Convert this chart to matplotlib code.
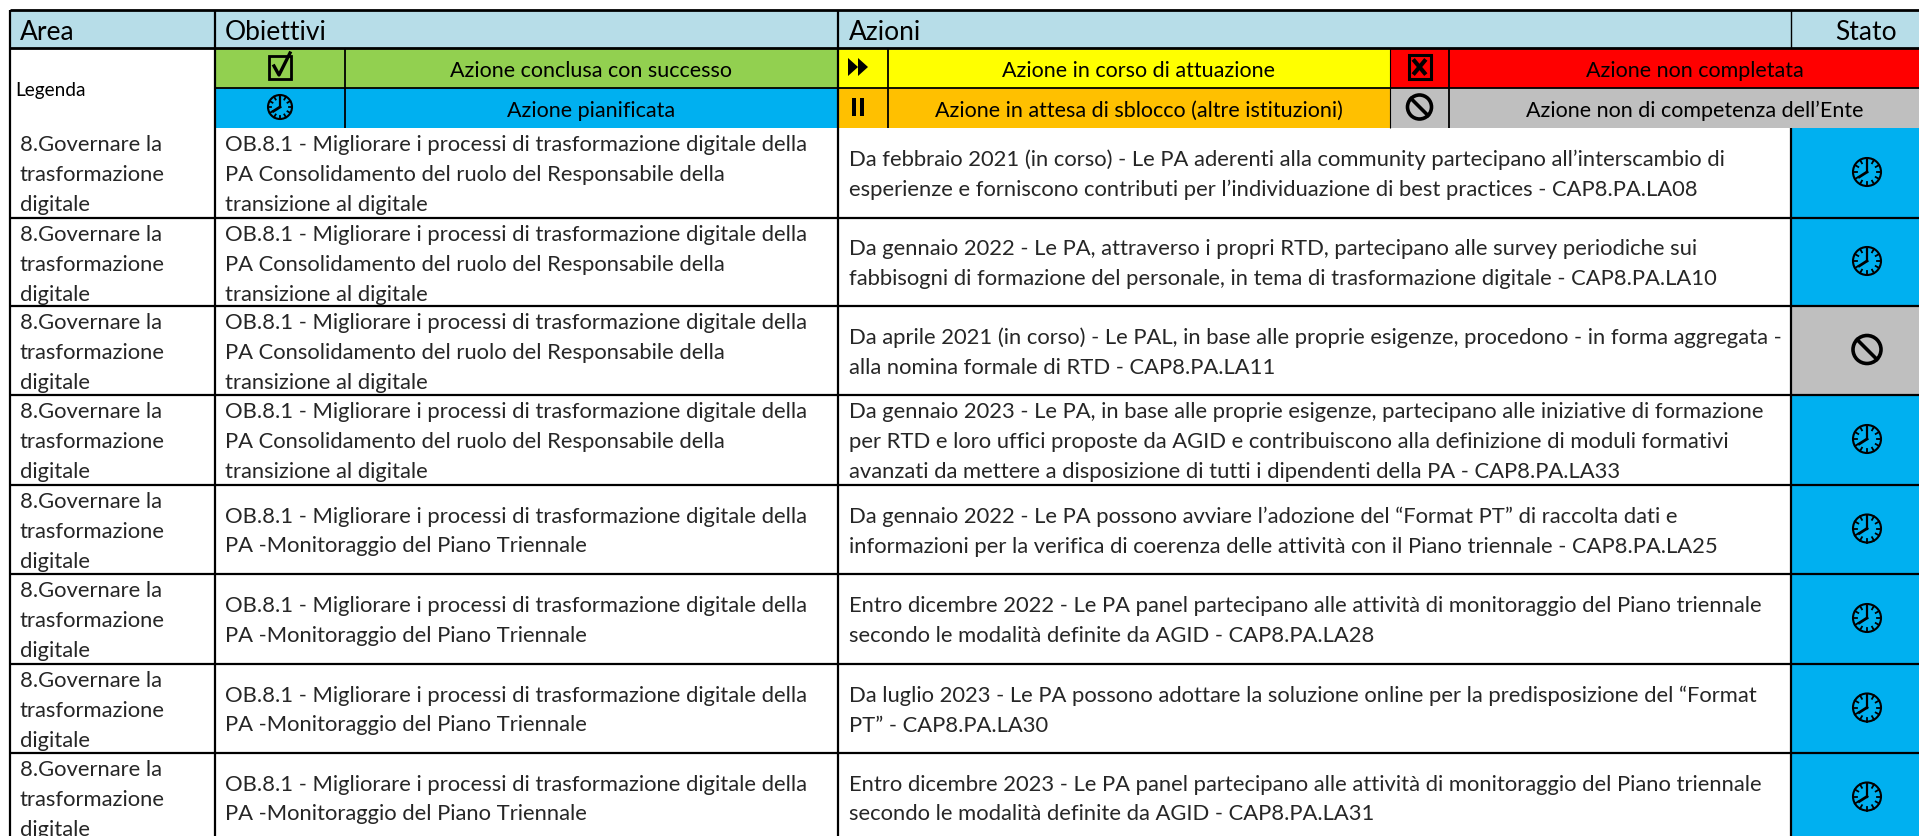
"""
Piano triennale table: header, legend and action rows, drawn on pixel-sized axes.
"""
import numpy as np
import matplotlib
matplotlib.use("Agg")
import matplotlib.pyplot as plt
from matplotlib.patches import Circle, Polygon, Rectangle

W, H = 1919, 837
FONT = "Lato"
BODY = 15.8
HEAD = 19.0
LEG = 15.5

HEADERS = ["Area", "Obiettivi", "Azioni", "Stato"]

AREA = "8.Governare la\ntrasformazione\ndigitale"
OB_RTD = ("OB.8.1 - Migliorare i processi di trasformazione digitale della\n"
          "PA Consolidamento del ruolo del Responsabile della\n"
          "transizione al digitale")
OB_MON = ("OB.8.1 - Migliorare i processi di trasformazione digitale della\n"
          "PA -Monitoraggio del Piano Triennale")

objectives = [OB_RTD, OB_RTD, OB_RTD, OB_RTD, OB_MON, OB_MON, OB_MON, OB_MON]
actions = [
    "Da febbraio 2021 (in corso) - Le PA aderenti alla community partecipano all’interscambio di\n"
    "esperienze e forniscono contributi per l’individuazione di best practices - CAP8.PA.LA08",
    "Da gennaio 2022 - Le PA, attraverso i propri RTD, partecipano alle survey periodiche sui\n"
    "fabbisogni di formazione del personale, in tema di trasformazione digitale - CAP8.PA.LA10",
    "Da aprile 2021 (in corso) - Le PAL, in base alle proprie esigenze, procedono - in forma aggregata -\n"
    "alla nomina formale di RTD - CAP8.PA.LA11",
    "Da gennaio 2023 - Le PA, in base alle proprie esigenze, partecipano alle iniziative di formazione\n"
    "per RTD e loro uffici proposte da AGID e contribuiscono alla definizione di moduli formativi\n"
    "avanzati da mettere a disposizione di tutti i dipendenti della PA - CAP8.PA.LA33",
    "Da gennaio 2022 - Le PA possono avviare l’adozione del “Format PT” di raccolta dati e\n"
    "informazioni per la verifica di coerenza delle attività con il Piano triennale - CAP8.PA.LA25",
    "Entro dicembre 2022 - Le PA panel partecipano alle attività di monitoraggio del Piano triennale\n"
    "secondo le modalità definite da AGID - CAP8.PA.LA28",
    "Da luglio 2023 - Le PA possono adottare la soluzione online per la predisposizione del “Format\n"
    "PT” - CAP8.PA.LA30",
    "Entro dicembre 2023 - Le PA panel partecipano alle attività di monitoraggio del Piano triennale\n"
    "secondo le modalità definite da AGID - CAP8.PA.LA31",
]
status = ["plan", "plan", "na", "plan", "plan", "plan", "plan", "plan"]

legend_labels = ["Azione conclusa con successo", "Azione in corso di attuazione", "Azione non completata",
                 "Azione pianificata", "Azione in attesa di sblocco (altre istituzioni)",
                 "Azione non di competenza dell’Ente"]
legend_icons = ["done", "run", "fail", "plan", "wait", "na"]
legend_colors = ["#92D050", "#FFFF00", "#FF0000", "#00B0F0", "#FFC000", "#BFBFBF"]
status_colors = {"plan": "#00B0F0", "na": "#BFBFBF"}

# column and row edges, in pixels of the picture
X0, X1, X2, X3 = 10, 215, 838, 1791
TOP, HEAD_B, LEG_M, LEG_B = 11, 49, 89, 129
ROW_EDGES = [129, 219, 307, 396, 486, 575, 665, 754, 843]
# the last legend cell runs past the right edge of the picture, its text is centred on the full cell
LEG_X = [(215, 345, 838), (838, 888, 1390), (1390, 1449, 1941)]

fig = plt.figure(figsize=(W / 100, H / 100), dpi=100)
ax = fig.add_axes([0, 0, 1, 1])
ax.set_xlim(0, W)
ax.set_ylim(H, 0)
ax.axis("off")


def box(x0, y0, x1, y1, color):
    ax.add_patch(Rectangle((x0, y0), x1 - x0, y1 - y0, fc=color, ec="none", zorder=1))


def line(xs, ys, lw=1.6):
    ax.plot(xs, ys, color="black", lw=lw, solid_capstyle="butt", zorder=3)


def label(x, y, s, size=BODY, ha="left", color="#262626", **kw):
    ax.text(x, y, s, fontsize=size, ha=ha, va="center", color=color, family=FONT,
            linespacing=1.61, zorder=4, **kw)


def icon(kind, x, y, r=12):
    if kind == "plan":
        ax.add_patch(Circle((x, y), r, fc="none", ec="black", lw=1.5, zorder=4))
        for a in np.arange(0, 360, 30):
            ca, sa = np.cos(np.radians(a)), np.sin(np.radians(a))
            ax.plot([x + ca * r * 0.72, x + ca * r], [y + sa * r * 0.72, y + sa * r],
                    color="black", lw=1.3, zorder=4)
        ax.plot([x, x], [y - r * 0.9, y], color="black", lw=1.6, zorder=4)
        ax.plot([x, x - r * 0.55], [y, y + r * 0.35], color="black", lw=2.0, zorder=4)
    elif kind == "na":
        ax.add_patch(Circle((x, y), r, fc="none", ec="black", lw=2.6, zorder=4))
        d = r * 0.7
        ax.plot([x - d, x + d], [y - d, y + d], color="black", lw=2.6, zorder=4)
    elif kind == "done":
        ax.add_patch(Rectangle((x - 11, y - 11), 22, 23, fc="none", ec="black", lw=2.0, zorder=4))
        ax.plot([x - 6, x - 1, x + 10], [y - 1, y + 8, y - 14], color="black", lw=2.4, zorder=4)
    elif kind == "run":
        for dx in (-10, 0):
            ax.add_patch(Polygon([(x + dx, y - 9), (x + dx + 10, y), (x + dx, y + 9)],
                                 fc="black", ec="none", zorder=4))
    elif kind == "wait":
        for dx in (-6, 2):
            ax.add_patch(Rectangle((x + dx, y - 9), 4, 18, fc="black", ec="none", zorder=4))
    elif kind == "fail":
        ax.add_patch(Rectangle((x - 11, y - 12), 22, 24, fc="none", ec="black", lw=2.2, zorder=4))
        ax.plot([x - 5, x + 5], [y - 6, y + 6], color="black", lw=3, zorder=4)
        ax.plot([x + 5, x - 5], [y - 6, y + 6], color="black", lw=3, zorder=4)


# header
box(X0, TOP, W, HEAD_B, "#B7DDE8")
for x, h in zip((20, 225, 849), HEADERS[:3]):
    label(x, 32, h, size=HEAD, color="black")
label(1866, 32, HEADERS[3], size=HEAD, ha="center", color="black")

# legend
label(15, 90, "Legenda", size=13.7, color="black")
for i, (lab, ic, col) in enumerate(zip(legend_labels, legend_icons, legend_colors)):
    x0, xm, x1 = LEG_X[i % 3]
    y0, y1 = (HEAD_B, LEG_M) if i < 3 else (LEG_M, LEG_B)
    box(x0, y0, x1, y1, col)
    label((xm + x1) / 2, (y0 + y1) / 2 + 2, lab, size=LEG, ha="center", color="black")
    icon(ic, (x0 + xm) / 2 + (-5 if x0 == 838 else 0), (y0 + y1) / 2 - 1)
    line([xm, xm], [y0, y1], lw=1.3)

# rows
for i in range(len(objectives)):
    y0, y1 = ROW_EDGES[i], ROW_EDGES[i + 1]
    mid = (y0 + y1) / 2
    label(20, y0 + 46, AREA)
    n = objectives[i].count("\n")
    label(225, y0 + 46 if n == 2 else mid + 1, objectives[i])
    label(849, mid + 1, actions[i])
    box(X3, y0, W, y1, status_colors[status[i]])
    icon(status[i], 1867, mid - 1, r=14)
    if i > 0:
        line([X0, W], [y0, y0])

# frame
line([X0, W], [TOP, TOP], lw=2.0)
line([X0, W], [HEAD_B, HEAD_B], lw=2.0)
line([X1, W], [LEG_M, LEG_M], lw=1.3)
line([X0, X0], [TOP, H])
line([X1, X1], [TOP, H])
line([X2, X2], [TOP, H])
line([X3, X3], [TOP, HEAD_B], lw=1.0)
line([X3, X3], [LEG_B, H])
line([1390, 1390], [HEAD_B, LEG_B], lw=0.8)

fig.savefig("out.png", dpi=100)
